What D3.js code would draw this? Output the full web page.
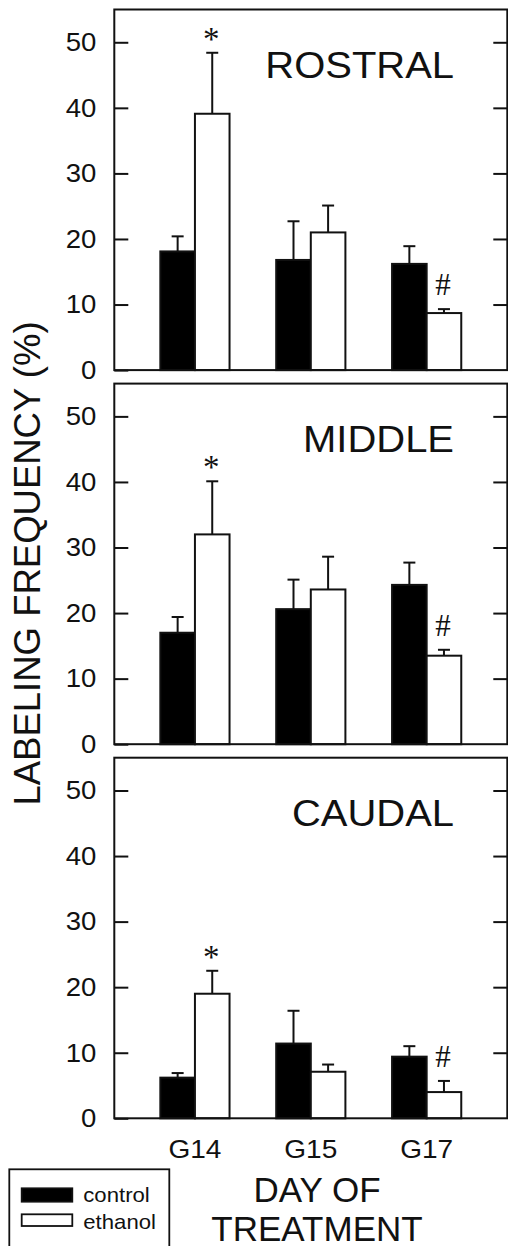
<!DOCTYPE html>
<html>
<head>
<meta charset="utf-8">
<script src="https://cdn.jsdelivr.net/npm/d3@7"></script>
<style>
  html, body { margin: 0; padding: 0; background: #fff; }
  svg { display: block; }
  text { font-family: "Liberation Sans", Arial, sans-serif; fill: #111; }
</style>
</head>
<body>
<script>
// ---- Data ----
const categories = ["G14", "G15", "G17"];
const regions = ["ROSTRAL", "MIDDLE", "CAUDAL"];
const seriesNames = ["control", "ethanol"];
const yTicks = [0, 10, 20, 30, 40, 50];

const controlRostral = [18.1, 16.8, 16.2];
const controlRostralErr = [2.3, 5.9, 2.7];
const ethanolRostral = [39.1, 21.0, 8.7];
const ethanolRostralErr = [9.3, 4.1, 0.6];

const controlMiddle = [17.0, 20.6, 24.3];
const controlMiddleErr = [2.4, 4.5, 3.4];
const ethanolMiddle = [32.0, 23.6, 13.5];
const ethanolMiddleErr = [8.1, 5.0, 0.9];

const controlCaudal = [6.2, 11.4, 9.4];
const controlCaudalErr = [0.7, 5.0, 1.6];
const ethanolCaudal = [19.0, 7.1, 4.0];
const ethanolCaudalErr = [3.5, 1.1, 1.7];

const ethanolMarkers = ["*", "", "#"];

const yTitle = "LABELING FREQUENCY (%)";
const xTitleLines = ["DAY OF", "TREATMENT"];

// ---- Layout ----
const W = 508, H = 1246;
const plotLeft = 114.3, plotRight = 507.3;
const panelTop0 = 9.5, panelH = 360.6, panelStep = 374.1;
const yMax = 55;

const panels = [
  { name: regions[0], control: controlRostral, controlErr: controlRostralErr, ethanol: ethanolRostral, ethanolErr: ethanolRostralErr },
  { name: regions[1], control: controlMiddle, controlErr: controlMiddleErr, ethanol: ethanolMiddle, ethanolErr: ethanolMiddleErr },
  { name: regions[2], control: controlCaudal, controlErr: controlCaudalErr, ethanol: ethanolCaudal, ethanolErr: ethanolCaudalErr }
];

const svg = d3.select("body").append("svg").attr("width", W).attr("height", H);

const x = d3.scalePoint().domain(categories).range([plotLeft, plotRight]).padding(0.696);
const barW = 34.6;
const capW = 12;

panels.forEach((p, i) => {
  const top = panelTop0 + i * panelStep;
  const bottom = top + panelH;
  const y = d3.scaleLinear().domain([0, yMax]).range([bottom, top]);
  const g = svg.append("g");

  // left axis (ticks inward)
  const ax = g.append("g").attr("transform", `translate(${plotLeft},0)`)
    .call(d3.axisLeft(y).tickValues(yTicks).tickSizeInner(-14).tickSizeOuter(0).tickPadding(17));
  ax.select(".domain").remove();
  ax.selectAll(".tick line").attr("stroke", "#111").attr("stroke-width", 2);
  ax.selectAll(".tick text").attr("font-size", 26).attr("fill", "#111")
    .attr("transform", "scale(1.06,1)")
    .style("font-family", '"Liberation Sans", Arial, sans-serif');

  // right axis ticks inward
  const axR = g.append("g").attr("transform", `translate(${plotRight},0)`)
    .call(d3.axisRight(y).tickValues(yTicks.filter(t => t > 0)).tickSizeInner(-14).tickSizeOuter(0).tickFormat(""));
  axR.select(".domain").remove();
  axR.selectAll(".tick line").attr("stroke", "#111").attr("stroke-width", 2);

  // bars
  const series = [
    { vals: p.control, errs: p.controlErr, fill: "#000", off: -barW / 2, markers: null },
    { vals: p.ethanol, errs: p.ethanolErr, fill: "#fff", off: barW / 2, markers: ethanolMarkers }
  ];
  series.forEach(s => {
    categories.forEach((c, j) => {
      const cx = x(c) + s.off;
      const v = s.vals[j], e = s.errs[j];
      // error bar
      g.append("line").attr("x1", cx).attr("x2", cx).attr("y1", y(v)).attr("y2", y(v + e))
        .attr("stroke", "#111").attr("stroke-width", 2);
      g.append("line").attr("x1", cx - capW / 2).attr("x2", cx + capW / 2).attr("y1", y(v + e)).attr("y2", y(v + e))
        .attr("stroke", "#111").attr("stroke-width", 2);
      g.append("rect").attr("x", cx - barW / 2).attr("y", y(v)).attr("width", barW).attr("height", y(0) - y(v))
        .attr("fill", s.fill).attr("stroke", "#111").attr("stroke-width", 2);
      if (s.markers && s.markers[j]) {
        const m = s.markers[j];
        const ty = m === "*" ? y(v + e) - 3 : y(v + e) - 14;
        g.append("text").attr("x", cx - 1).attr("y", ty).attr("text-anchor", "middle")
          .attr("font-size", m === "*" ? 33 : 31)
          .style("font-family", '"Liberation Serif", "Times New Roman", serif')
          .text(m);
      }
    });
  });

  // frame
  g.append("rect").attr("x", plotLeft).attr("y", top).attr("width", plotRight - plotLeft).attr("height", bottom - top)
    .attr("fill", "none").attr("stroke", "#111").attr("stroke-width", 2);

  // panel title
  g.append("text").attr("transform", `translate(454,${top + 68}) scale(1.08,1)`)
    .attr("text-anchor", "end").attr("font-size", 37).text(p.name);

  // x tick labels on bottom panel
  if (i === panels.length - 1) {
    categories.forEach(c => {
      g.append("text").attr("transform", `translate(${x(c)},${bottom + 40}) scale(1.1,1)`)
        .attr("text-anchor", "middle").attr("font-size", 25.5).text(c);
    });
  }
});

// y title
svg.append("text").attr("transform", "translate(40,563.5) rotate(-90)")
  .attr("text-anchor", "middle").attr("font-size", 36.5).text(yTitle);

// x title
xTitleLines.forEach((t, k) => {
  svg.append("text").attr("x", 317).attr("y", 1201.5 + k * 39)
    .attr("text-anchor", "middle").attr("font-size", 35).text(t);
});

// legend
const lg = svg.append("g");
lg.append("rect").attr("x", 9.3).attr("y", 1169.3).attr("width", 160).attr("height", 100)
  .attr("fill", "#fff").attr("stroke", "#111").attr("stroke-width", 1.8);
const legFills = ["#000", "#fff"];
const legSwY = [1188.3, 1214.3];
const legSwH = [13.4, 11.7];
const legTextY = [1201.5, 1229];
seriesNames.forEach((n, k) => {
  lg.append("rect").attr("x", 21.7).attr("y", legSwY[k]).attr("width", 50.6).attr("height", legSwH[k])
    .attr("fill", legFills[k]).attr("stroke", "#111").attr("stroke-width", 1.8);
  lg.append("text").attr("transform", `translate(83.3,${legTextY[k]}) scale(1.08,1)`)
    .attr("font-size", 20.5).text(n);
});
</script>
</body>
</html>
